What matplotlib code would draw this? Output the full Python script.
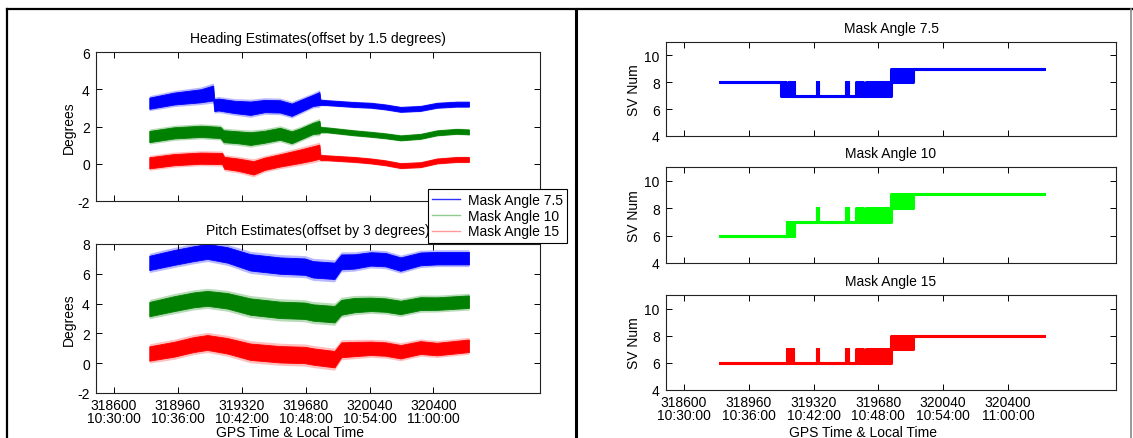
import matplotlib
matplotlib.use("Agg")
import matplotlib.pyplot as plt
from matplotlib.lines import Line2D
import numpy as np

plt.rcParams['font.family'] = ['Liberation Sans', 'DejaVu Sans']
plt.rcParams['font.size'] = 10
plt.rcParams['axes.unicode_minus'] = False

# ---------------- data ----------------
xticks = [318600, 318960, 319320, 319680, 320040, 320400]
xticklabels = ["318600\n10:30:00", "318960\n10:36:00", "319320\n10:42:00",
               "319680\n10:48:00", "320040\n10:54:00", "320400\n11:00:00"]
series_names = ["Mask Angle 7.5", "Mask Angle 10", "Mask Angle 15"]

# Heading estimates (band centre and half-width of noise)
head75_t = [318800, 318940, 319090, 319160, 319166, 319190, 319280, 319370, 319450, 319536,
            319602, 319650, 319722, 319758, 319764, 319800, 319955, 320048, 320130, 320215,
            320327, 320420, 320531, 320600]
head75_c = [3.25, 3.50, 3.65, 3.80, 3.15, 3.18, 3.05, 2.98, 3.10, 3.08,
            2.90, 3.10, 3.40, 3.50, 3.30, 3.28, 3.18, 3.14, 3.05, 2.92,
            2.97, 3.14, 3.20, 3.20]
head75_w = [0.30, 0.32, 0.35, 0.40, 0.32, 0.32, 0.33, 0.36, 0.33, 0.33,
            0.33, 0.32, 0.30, 0.35, 0.14, 0.13, 0.13, 0.13, 0.13, 0.13,
            0.13, 0.13, 0.13, 0.13]

head10_t = [318800, 318940, 319090, 319200, 319218, 319300, 319370, 319450, 319536, 319602,
            319650, 319722, 319758, 319764, 319800, 319955, 320048, 320130, 320215, 320327,
            320420, 320531, 320600]
head10_c = [1.46, 1.66, 1.74, 1.68, 1.48, 1.42, 1.35, 1.45, 1.61, 1.42,
            1.60, 1.90, 1.97, 1.83, 1.82, 1.66, 1.58, 1.50, 1.39, 1.47,
            1.66, 1.74, 1.71]
head10_w = [0.30, 0.30, 0.30, 0.30, 0.32, 0.32, 0.34, 0.32, 0.32, 0.32,
            0.30, 0.30, 0.34, 0.14, 0.13, 0.13, 0.13, 0.13, 0.13, 0.13,
            0.13, 0.13, 0.13]

head15_t = [318800, 318940, 319090, 319210, 319222, 319300, 319387, 319450, 319536, 319648,
            319722, 319758, 319764, 319800, 319955, 320048, 320130, 320215, 320327, 320420,
            320531, 320600]
head15_c = [0.05, 0.22, 0.30, 0.28, 0.05, -0.05, -0.22, 0.00, 0.18, 0.40,
            0.56, 0.65, 0.33, 0.32, 0.23, 0.15, 0.05, -0.10, -0.05, 0.15,
            0.23, 0.23]
head15_w = [0.30, 0.30, 0.30, 0.30, 0.32, 0.33, 0.36, 0.33, 0.33, 0.36,
            0.38, 0.38, 0.14, 0.13, 0.13, 0.13, 0.13, 0.13, 0.13, 0.13,
            0.13, 0.13]

# Pitch estimates
pitch_t = [318800, 318941, 319050, 319127, 319239, 319369, 319536, 319676, 319722, 319843,
           319881, 319955, 320048, 320130, 320215, 320327, 320420, 320600]
pitch75_c = [6.73, 7.10, 7.35, 7.50, 7.27, 6.77, 6.55, 6.48, 6.30, 6.20,
             6.80, 6.83, 7.00, 6.95, 6.65, 7.00, 7.05, 7.05]
pitch10_c = [3.63, 4.00, 4.25, 4.35, 4.19, 3.80, 3.58, 3.52, 3.40, 3.29,
             3.75, 3.90, 3.95, 3.90, 3.74, 4.00, 4.00, 4.13]
pitch15_c = [0.65, 0.94, 1.25, 1.39, 1.17, 0.77, 0.60, 0.55, 0.45, 0.27,
             0.90, 0.95, 1.00, 0.95, 0.77, 1.05, 0.95, 1.17]
pitch_w = [0.48, 0.50, 0.50, 0.50, 0.52, 0.55, 0.55, 0.55, 0.55, 0.55,
           0.50, 0.48, 0.45, 0.45, 0.45, 0.43, 0.42, 0.42]

# Number of satellites: breakpoints with low/high value for each interval
sv75_t  = [318800, 319138, 319166, 319186, 319193, 319205, 319213, 319338, 319345, 319500,
           319510, 319555, 319597, 319612, 319752, 319872, 320600]
sv75_lo = [8, 7, 7, 8, 7, 8, 7, 8, 7, 8, 7, 7, 7, 7, 8, 9, 9]
sv75_hi = [8, 8, 7, 8, 7, 8, 7, 8, 7, 8, 7, 8, 7, 8, 9, 9, 9]

sv10_t  = [318800, 319171, 319177, 319186, 319192, 319212, 319338, 319345, 319500, 319510,
           319555, 319597, 319612, 319752, 319872, 320600]
sv10_lo = [6, 7, 6, 7, 6, 7, 8, 7, 8, 7, 7, 7, 7, 8, 9, 9]
sv10_hi = [6, 7, 6, 7, 6, 7, 8, 7, 8, 7, 8, 7, 8, 9, 9, 9]

sv15_t  = [318800, 319171, 319177, 319190, 319206, 319338, 319345, 319500, 319510,
           319555, 319597, 319612, 319752, 319872, 320600]
sv15_lo = [6, 7, 6, 7, 6, 7, 6, 7, 6, 6, 6, 6, 7, 8, 8]
sv15_hi = [6, 7, 6, 7, 6, 7, 6, 7, 6, 7, 6, 7, 8, 8, 8]

# ---------------- figure ----------------
W, H = 1133, 439
fig = plt.figure(figsize=(W / 100, H / 100), dpi=100)


def axes_px(left, top, right, bottom):
    return fig.add_axes([left / W, 1 - bottom / H, (right - left) / W, (bottom - top) / H])


def style(ax, ylim, yticks, show_xlabels):
    ax.set_xlim(318500, 321000)
    ax.set_ylim(*ylim)
    ax.set_yticks(yticks)
    ax.set_xticks(xticks)
    if show_xlabels:
        ax.set_xticklabels(xticklabels, linespacing=0.95)
    else:
        ax.set_xticklabels([])
    ax.tick_params(direction='in', top=True, right=True, length=4, width=0.7,
                   labelsize=10, colors='black')
    ax.tick_params(axis='x', pad=3.5)
    ax.tick_params(axis='y', pad=4.5)
    for s in ax.spines.values():
        s.set_linewidth(0.8)
        s.set_color('#222222')


def band(ax, t, c, w, color, halo):
    c = np.asarray(c, float)
    w = np.asarray(w, float)
    ax.fill_between(t, c - w * 1.35, c + w * 1.35, color=halo, lw=0, alpha=0.5)
    ax.fill_between(t, c - w, c + w, color=color, lw=0.6, edgecolor=color)


# Heading
ax_h = axes_px(96, 53, 540, 202)
band(ax_h, head75_t, head75_c, head75_w, (0, 0, 1), (0.45, 0.45, 1))
band(ax_h, head10_t, head10_c, head10_w, (0, 0.5, 0), (0.45, 0.72, 0.45))
band(ax_h, head15_t, head15_c, head15_w, (1, 0, 0), (1, 0.5, 0.5))
style(ax_h, (-2, 6), [-2, 0, 2, 4, 6], False)
ax_h.set_title("Heading Estimates(offset by 1.5 degrees)", fontsize=10, pad=7)
ax_h.set_ylabel("Degrees", fontsize=10)
ax_h.yaxis.set_label_coords(-0.045, 0.5)

# Pitch
ax_p = axes_px(96, 245, 540, 394)
band(ax_p, pitch_t, pitch75_c, pitch_w, (0, 0, 1), (0.45, 0.45, 1))
band(ax_p, pitch_t, pitch10_c, pitch_w, (0, 0.5, 0), (0.45, 0.72, 0.45))
band(ax_p, pitch_t, pitch15_c, pitch_w, (1, 0, 0), (1, 0.5, 0.5))
style(ax_p, (-2, 8), [-2, 0, 2, 4, 6, 8], True)
ax_p.set_title("Pitch Estimates(offset by 3 degrees)", fontsize=10, pad=7)
ax_p.set_ylabel("Degrees", fontsize=10)
ax_p.yaxis.set_label_coords(-0.045, 0.5)
fig.text(290 / W, 1 - 433 / H, "GPS Time & Local Time", ha='center', va='center', fontsize=10)

# Legend
handles = [Line2D([], [], color='#3030ff', lw=1.0),
           Line2D([], [], color='#8ccc8c', lw=1.0),
           Line2D([], [], color='#ff9a9a', lw=1.0)]
leg = fig.legend(handles, series_names, loc='upper left',
                 bbox_to_anchor=(428 / W, 1 - 190 / H), fontsize=10,
                 frameon=True, fancybox=False, shadow=False, borderpad=0.3,
                 labelspacing=0.12, handlelength=2.0, handletextpad=0.6,
                 borderaxespad=0.0)
leg.get_frame().set_edgecolor('black')
leg.get_frame().set_linewidth(0.8)
leg.get_frame().set_alpha(1)
leg.set_zorder(20)

# SV number panels
sv_specs = [
    (43, 137, sv75_t, sv75_lo, sv75_hi, (0, 0, 1), "Mask Angle 7.5", False),
    (168, 264, sv10_t, sv10_lo, sv10_hi, (0, 1, 0), "Mask Angle 10", False),
    (296, 391, sv15_t, sv15_lo, sv15_hi, (1, 0, 0), "Mask Angle 15", True),
]
for top, bot, t, lo, hi, col, title, lab in sv_specs:
    ax = axes_px(666, top, 1116, bot)
    ax.fill_between(t, lo, hi, step='post', color=col, edgecolor=col, lw=2.2)
    style(ax, (4, 11), [4, 6, 8, 10], lab)
    ax.set_title(title, fontsize=10, pad=7)
    ax.set_ylabel("SV Num", fontsize=10)
    ax.yaxis.set_label_coords(-0.056, 0.5)
fig.text(863 / W, 1 - 433 / H, "GPS Time & Local Time", ha='center', va='center', fontsize=10)

# Frame lines
fig.add_artist(Line2D([7 / W, 1], [1 - 10 / H, 1 - 10 / H], color='black', lw=1.6,
                      transform=fig.transFigure))
fig.add_artist(Line2D([7 / W, 7 / W], [0, 1 - 10 / H], color='black', lw=1.6,
                      transform=fig.transFigure))
fig.add_artist(Line2D([576 / W, 576 / W], [0, 1 - 10 / H], color='black', lw=2.2,
                      transform=fig.transFigure))
fig.add_artist(Line2D([1131 / W, 1131 / W], [0, 1 - 10 / H], color='#888888', lw=1.2,
                      transform=fig.transFigure))

fig.savefig("out.png", dpi=100)
